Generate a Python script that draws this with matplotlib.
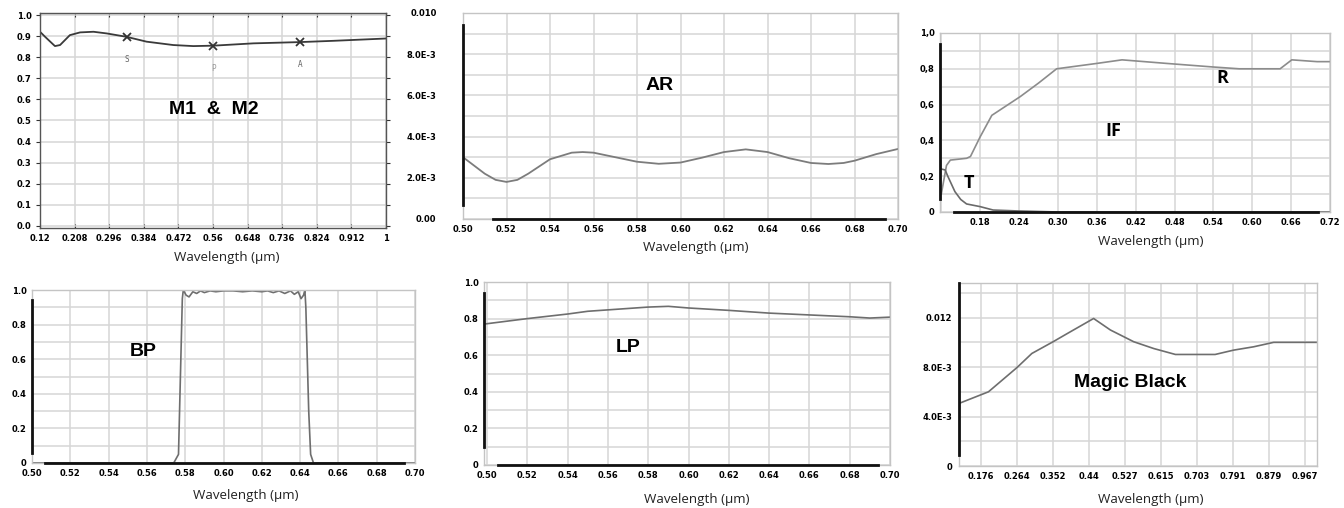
import numpy as np
import matplotlib
matplotlib.use('Agg')
from matplotlib import pyplot as plt

# ---------------- data ----------------
# M1 & M2 reflectance
m12_wl = [0.12, 0.133, 0.158, 0.171, 0.196, 0.222, 0.256, 0.29, 0.34, 0.391,
          0.459, 0.51, 0.561, 0.663, 0.781, 0.866, 1.0]
m12_r = [0.921, 0.897, 0.853, 0.858, 0.905, 0.918, 0.921, 0.913, 0.897, 0.874,
         0.858, 0.853, 0.855, 0.866, 0.872, 0.878, 0.889]
m12_mark_wl = [0.34, 0.561, 0.781]
m12_mark_r = [0.897, 0.853, 0.872]
m12_mark_txt = ['S', 'P', 'A']
m12_xticks = ['0.12', '0.208', '0.296', '0.384', '0.472', '0.56', '0.648',
              '0.736', '0.824', '0.912', '1']
m12_yticks = ['0.0', '0.1', '0.2', '0.3', '0.4', '0.5', '0.6', '0.7', '0.8',
              '0.9', '1.0']

# AR coating
ar_wl = [0.50, 0.505, 0.51, 0.515, 0.52, 0.525, 0.53, 0.54, 0.55, 0.555, 0.56,
         0.57, 0.58, 0.59, 0.60, 0.61, 0.62, 0.63, 0.64, 0.65, 0.66, 0.668,
         0.675, 0.68, 0.69, 0.70]
ar_r = [0.0030, 0.0026, 0.0022, 0.0019, 0.0018, 0.0019, 0.0022, 0.0029, 0.00322,
        0.00325, 0.00322, 0.00300, 0.00278, 0.00268, 0.00274, 0.00298, 0.00325,
        0.00338, 0.00325, 0.00295, 0.00272, 0.00267, 0.00272, 0.00283, 0.00315,
        0.0034]
ar_xticks = ['0.50', '0.52', '0.54', '0.56', '0.58', '0.60', '0.62', '0.64',
             '0.66', '0.68', '0.70']
ar_yticks = ['0.00', '2.0E-3', '4.0E-3', '6.0E-3', '8.0E-3', '0.010']

# IF filter: R and T
if_r_wl = [0.12, 0.128, 0.134, 0.159, 0.165, 0.18, 0.198, 0.242, 0.27, 0.298,
           0.36, 0.399, 0.468, 0.54, 0.58, 0.643, 0.661, 0.70, 0.72]
if_r = [0.10, 0.26, 0.29, 0.30, 0.31, 0.42, 0.54, 0.645, 0.72, 0.80, 0.83,
        0.85, 0.83, 0.81, 0.80, 0.80, 0.85, 0.84, 0.84]
if_t_wl = [0.12, 0.126, 0.13, 0.141, 0.15, 0.159, 0.18, 0.20, 0.237, 0.30, 0.72]
if_t = [0.24, 0.235, 0.20, 0.114, 0.07, 0.045, 0.03, 0.011, 0.006, 0.0, 0.0]
if_xticks = ['0.18', '0.24', '0.30', '0.36', '0.42', '0.48', '0.54', '0.60',
             '0.66', '0.72']
if_yticks = ['0', '0,2', '0,4', '0,6', '0,8', '1,0']

# BP filter
bp_wl = [0.50, 0.574, 0.5765, 0.5775, 0.5785, 0.579, 0.5805, 0.582, 0.584,
         0.586, 0.588, 0.590, 0.593, 0.596, 0.60, 0.605, 0.61, 0.615, 0.62,
         0.623, 0.626, 0.629, 0.632, 0.635, 0.637, 0.639, 0.6405, 0.6418,
         0.6425, 0.643, 0.6445, 0.6455, 0.647, 0.70]
bp_t = [0.0, 0.0, 0.05, 0.5, 0.95, 1.0, 0.97, 0.96, 0.99, 0.98, 0.995, 0.985,
        0.995, 0.99, 0.995, 0.995, 0.99, 0.995, 0.99, 0.995, 0.985, 0.995,
        0.98, 0.995, 0.975, 0.99, 0.95, 0.97, 1.0, 0.9, 0.3, 0.05, 0.0, 0.0]
bp_xticks = ar_xticks
bp_yticks = ['0', '0.2', '0.4', '0.6', '0.8', '1.0']

# LP filter
lp_wl = [0.4985, 0.52, 0.54, 0.55, 0.58, 0.59, 0.60, 0.62, 0.64, 0.66, 0.68,
         0.69, 0.70]
lp_t = [0.77, 0.80, 0.825, 0.84, 0.863, 0.867, 0.858, 0.845, 0.83, 0.82, 0.81,
        0.803, 0.808]

# Magic Black
mb_wl = [0.122, 0.194, 0.264, 0.30, 0.352, 0.386, 0.451, 0.492, 0.549, 0.598,
         0.651, 0.748, 0.793, 0.842, 0.891, 0.997]
mb_r = [0.00506, 0.0060, 0.00797, 0.0091, 0.01005, 0.0107, 0.01193, 0.0110,
        0.01005, 0.0095, 0.00902, 0.00902, 0.00937, 0.00964, 0.0100, 0.0100]
mb_xticks = ['0.176', '0.264', '0.352', '0.44', '0.527', '0.615', '0.703',
             '0.791', '0.879', '0.967']
mb_yticks = ['0', '4.0E-3', '8.0E-3', '0.012']

# ---------------- figure ----------------
W, H = 1344, 508
dpi = 100.0
fig = plt.figure(figsize=(W / dpi, H / dpi), dpi=dpi)

GRID = '#d6d6d6'
LINE = '#7c7c7c'
TICKFONT = dict(family='DejaVu Sans', weight='bold', size=6.0)
XLAB = 'Wavelength (\u00b5m)'


def add_panel(l, t, r, b):
    ax = fig.add_axes([l / W, 1 - b / H, (r - l) / W, (b - t) / H])
    for s in ax.spines.values():
        s.set_color('#c4c4c4')
        s.set_linewidth(1.0)
    ax.set_axisbelow(True)
    return ax


def style_ticks(ax, xt, yt, yconv=float):
    ax.set_xticks([float(s) for s in xt])
    ax.set_xticklabels(xt, fontdict=TICKFONT)
    ax.set_yticks([yconv(s) for s in yt])
    ax.set_yticklabels(yt, fontdict=TICKFONT)
    ax.tick_params(length=0, pad=4)
    ax.grid(True, which='both', color=GRID, lw=1.1)
    ax.tick_params(which='minor', length=0)


def xlabel(x, y):
    fig.text(x / W, 1 - y / H, XLAB, ha='center', va='center',
             family=['Open Sans', 'DejaVu Sans'], size=9.6, color='#222222')


def thick(ax, x0, y0, xspan, yspan):
    # dark partial axis lines as in the screenshots
    if yspan is not None:
        ax.axvline(x0, ymin=yspan[0], ymax=yspan[1], color='#111111', lw=2.0,
                   clip_on=False, zorder=5)
    if xspan is not None:
        ax.axhline(y0, xmin=xspan[0], xmax=xspan[1], color='#111111', lw=2.0,
                   clip_on=False, zorder=5)


# ---- M1 & M2 ----
ax = add_panel(40, 13, 386, 228)
ax.plot(m12_wl, m12_r, color='#3a3a3a', lw=1.3)
ax.plot(m12_mark_wl, m12_mark_r, ls='none', marker='x', ms=6, mew=1.3,
        color='#333333')
for xm, ym, tx in zip(m12_mark_wl, m12_mark_r, m12_mark_txt):
    ax.text(xm, ym - 0.107, tx, ha='center', va='center',
            family='DejaVu Sans Mono', size=5.5,
            color='#999999' if tx == 'P' else '#666666')
ax.set_xlim(0.12, 1.0)
ax.set_ylim(-0.01, 1.01)
style_ticks(ax, m12_xticks, m12_yticks)
ax.tick_params(axis='y', direction='out', length=3, color='#333333',
               right=True, pad=3)
ax.tick_params(axis='x', direction='in', length=3, color='#333333', top=True)
for s in ax.spines.values():
    s.set_color('#555555')
ax.text(0.561, 0.55, 'M1  &  M2', ha='center', va='center',
        family='Liberation Sans', weight='bold', size=14)
xlabel(227, 258)

# ---- AR ----
ax = add_panel(463, 13, 898, 219)
ax.plot(ar_wl, ar_r, color=LINE, lw=1.3)
ax.set_xlim(0.5, 0.7)
ax.set_ylim(0, 0.010)
style_ticks(ax, ar_xticks, ar_yticks)
ax.set_yticks(np.arange(0.001, 0.010, 0.002), minor=True)
ax.tick_params(axis='y', pad=19)
thick(ax, 0.5, 0.0, (0.07, 0.97), (0.07, 0.94))
ax.text(0.5906, 0.0065, 'AR', ha='center', va='center',
        family='Liberation Sans', weight='bold', size=14)
xlabel(696, 247)

# ---- IF ----
ax = add_panel(940, 33, 1330, 212)
ax.plot(if_r_wl, if_r, color='#8c8c8c', lw=1.2)
ax.plot(if_t_wl, if_t, color='#6a6a6a', lw=1.2)
ax.set_xlim(0.118, 0.72)
ax.set_ylim(0, 1.0)
style_ticks(ax, if_xticks, if_yticks,
            yconv=lambda s: float(s.replace(',', '.')))
ax.set_xticks([0.12], minor=True)
ax.set_yticks(np.arange(0.1, 1.0, 0.2), minor=True)
thick(ax, 0.118, 0.0, (0.035, 0.97), (0.07, 0.94))
for tx, xt, yt in [('IF', 0.385, 0.45), ('R', 0.554, 0.75), ('T', 0.163, 0.16)]:
    ax.text(xt, yt, tx, ha='center', va='center',
            family=['Open Sans', 'DejaVu Sans'], weight='bold', size=13)
xlabel(1151, 242)

# ---- BP ----
ax = add_panel(32, 290, 415, 463)
ax.plot(bp_wl, bp_t, color='#6e6e6e', lw=1.2)
ax.set_xlim(0.5, 0.7)
ax.set_ylim(0, 1.0)
style_ticks(ax, bp_xticks, bp_yticks)
ax.set_yticks(np.arange(0.1, 1.0, 0.2), minor=True)
thick(ax, 0.5, 0.0, (0.035, 0.97), (0.06, 0.94))
ax.text(0.558, 0.644, 'BP', ha='center', va='center',
        family='Liberation Sans', weight='bold', size=14)
xlabel(246, 495)

# ---- LP ----
ax = add_panel(484, 282, 890, 465)
ax.plot(lp_wl, lp_t, color='#6e6e6e', lw=1.2)
ax.set_xlim(0.4985, 0.70)
ax.set_ylim(0, 1.0)
style_ticks(ax, ar_xticks, bp_yticks)
ax.set_yticks(np.arange(0.1, 1.0, 0.2), minor=True)
thick(ax, 0.4985, 0.0, (0.035, 0.97), (0.1, 0.94))
ax.text(0.570, 0.642, 'LP', ha='center', va='center',
        family='Liberation Sans', weight='bold', size=14)
xlabel(697, 499)

# ---- Magic Black ----
ax = add_panel(959, 283, 1317, 466)
ax.plot(mb_wl, mb_r, color='#6e6e6e', lw=1.2)
ax.set_xlim(0.122, 0.997)
ax.set_ylim(0, 0.0148)
style_ticks(ax, mb_xticks, mb_yticks)
ax.set_yticks(np.arange(0.002, 0.0141, 0.004), minor=True)
ax.set_yticks([0.0, 0.004, 0.008, 0.012, 0.014], minor=False)
ax.set_yticklabels(mb_yticks + [''], fontdict=TICKFONT)
ax.tick_params(axis='y', pad=5)
thick(ax, 0.122, 0.0, None, (0.06, 1.0))
ax.text(0.5405, 0.00676, 'Magic Black', ha='center', va='center',
        family='Liberation Sans', weight='bold', size=14)
xlabel(1151, 499)

fig.savefig('out.png', dpi=dpi)
